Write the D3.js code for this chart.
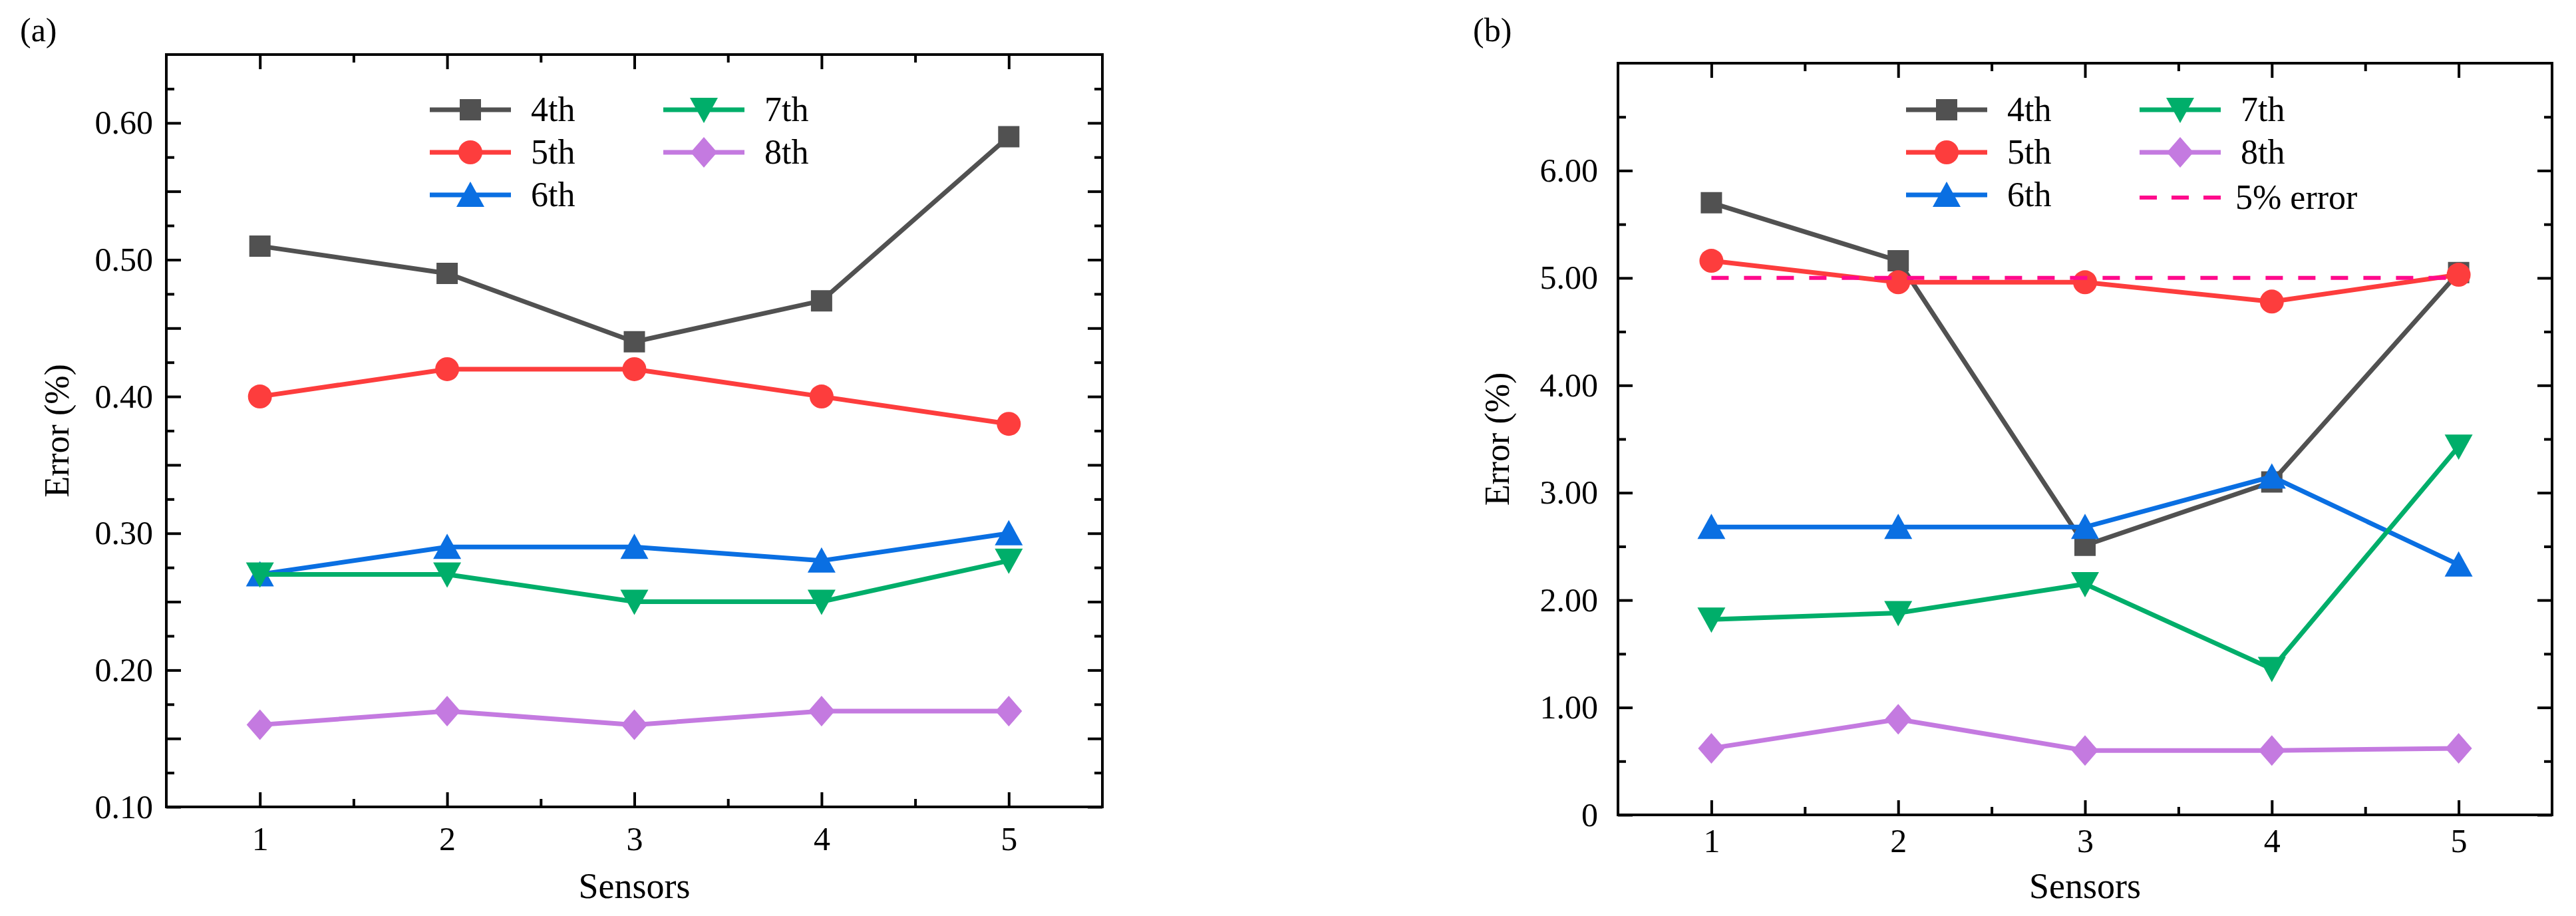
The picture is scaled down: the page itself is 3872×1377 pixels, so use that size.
<!DOCTYPE html>
<html>
<head>
<meta charset="utf-8">
<script src="https://cdn.jsdelivr.net/npm/d3@7"></script>
<style>
  html, body { margin: 0; padding: 0; background: #fff; }
  svg { display: block; }
  text { font-family: "Liberation Serif", "Times New Roman", serif; fill: #000; }
</style>
</head>
<body>
<svg id="chart" width="3872" height="1377"></svg>
<script>
// sensors on the x axis
const sensors = [1, 2, 3, 4, 5];
const modes = ["4th", "5th", "6th", "7th", "8th"];

// (a) error (%)
const a4th = [0.51, 0.49, 0.44, 0.47, 0.59];
const a5th = [0.40, 0.42, 0.42, 0.40, 0.38];
const a6th = [0.27, 0.29, 0.29, 0.28, 0.30];
const a7th = [0.27, 0.27, 0.25, 0.25, 0.28];
const a8th = [0.16, 0.17, 0.16, 0.17, 0.17];

// (b) error (%)
const b4th = [5.70, 5.16, 2.51, 3.10, 5.05];
const b5th = [5.16, 4.96, 4.96, 4.78, 5.03];
const b6th = [2.68, 2.68, 2.68, 3.15, 2.33];
const b7th = [1.82, 1.88, 2.15, 1.36, 3.43];
const b8th = [0.62, 0.89, 0.60, 0.60, 0.62];
const errorLimit = 5.0;

// tick labels
const xTickLabels = ["1", "2", "3", "4", "5"];
const yTicksA = [0.10, 0.20, 0.30, 0.40, 0.50, 0.60];
const yTickLabelsA = ["0.10", "0.20", "0.30", "0.40", "0.50", "0.60"];
const yTicksB = [0, 1, 2, 3, 4, 5, 6];
const yTickLabelsB = ["0", "1.00", "2.00", "3.00", "4.00", "5.00", "6.00"];

const colors = ["#515151", "#fd3d3d", "#0a6fe2", "#00ae6a", "#c47ae0"];
const limitColor = "#ff0a8c";

const svg = d3.select("#chart");

// marker shapes, centred on the point
const markers = [
  "M-16,-16h32v32h-32Z",
  "M18,0A18,18 0 1,1 -18,0A18,18 0 1,1 18,0Z",
  "M0,-20L21,18L-21,18Z",
  "M0,20L21,-18L-21,-18Z",
  "M0,-23L20,0L0,23L-20,0Z"
];

function drawPanel(p) {
  const g = svg.append("g");

  const x = d3.scaleLinear().domain([0.5, 5.5]).range([p.left, p.right]);
  const y = d3.scaleLinear().domain(p.yDomain).range([p.bottom, p.top]);

  const major = 22, minor = 12;

  // bottom axis
  g.append("g")
    .attr("transform", `translate(0,${p.bottom})`)
    .call(d3.axisBottom(x).tickValues(sensors).tickFormat((d, i) => xTickLabels[i])
      .tickSizeInner(-major).tickSizeOuter(0).tickPadding(p.xPad))
    .call(a => a.select(".domain").remove());
  g.append("g")
    .attr("transform", `translate(0,${p.bottom})`)
    .call(d3.axisBottom(x).tickValues(d3.range(1.5, 5, 1)).tickFormat("")
      .tickSizeInner(-minor).tickSizeOuter(0))
    .call(a => a.select(".domain").remove());
  // top axis (mirror)
  g.append("g")
    .attr("transform", `translate(0,${p.top})`)
    .call(d3.axisTop(x).tickValues(sensors).tickFormat("").tickSizeInner(-major).tickSizeOuter(0))
    .call(a => a.select(".domain").remove());
  g.append("g")
    .attr("transform", `translate(0,${p.top})`)
    .call(d3.axisTop(x).tickValues(d3.range(1.5, 5, 1)).tickFormat("").tickSizeInner(-minor).tickSizeOuter(0))
    .call(a => a.select(".domain").remove());

  // left axis
  g.append("g")
    .attr("transform", `translate(${p.left},0)`)
    .call(d3.axisLeft(y).tickValues(p.yTicks).tickFormat((d, i) => p.yLabels[i])
      .tickSizeInner(-major).tickSizeOuter(0).tickPadding(p.yPad))
    .call(a => a.select(".domain").remove());
  g.append("g")
    .attr("transform", `translate(${p.left},0)`)
    .call(d3.axisLeft(y).tickValues(p.yMid).tickFormat("").tickSizeInner(-major).tickSizeOuter(0))
    .call(a => a.select(".domain").remove());
  g.append("g")
    .attr("transform", `translate(${p.left},0)`)
    .call(d3.axisLeft(y).tickValues(p.yMinor).tickFormat("").tickSizeInner(-minor).tickSizeOuter(0))
    .call(a => a.select(".domain").remove());
  // right axis (mirror)
  const rightMajor = p.yTicks.concat(p.yMid);
  g.append("g")
    .attr("transform", `translate(${p.right},0)`)
    .call(d3.axisRight(y).tickValues(rightMajor).tickFormat("").tickSizeInner(-major).tickSizeOuter(0))
    .call(a => a.select(".domain").remove());
  g.append("g")
    .attr("transform", `translate(${p.right},0)`)
    .call(d3.axisRight(y).tickValues(p.yMinor).tickFormat("").tickSizeInner(-minor).tickSizeOuter(0))
    .call(a => a.select(".domain").remove());

  g.selectAll(".tick line").attr("stroke", "#000").attr("stroke-width", 4);
  g.selectAll(".tick text").style("font-size", "50px").attr("fill", "#000");

  // frame
  g.append("rect")
    .attr("x", p.left).attr("y", p.top)
    .attr("width", p.right - p.left).attr("height", p.bottom - p.top)
    .attr("fill", "none").attr("stroke", "#000").attr("stroke-width", 4);

  // series
  const line = d3.line().x((d, i) => x(sensors[i])).y(d => y(d));
  p.series.forEach((vals, k) => {
    g.append("path")
      .attr("d", line(vals))
      .attr("fill", "none")
      .attr("stroke", colors[k])
      .attr("stroke-width", 7);
    g.selectAll(null)
      .data(vals)
      .enter()
      .append("path")
      .attr("d", markers[k])
      .attr("transform", (d, i) => `translate(${x(sensors[i])},${y(d)})`)
      .attr("fill", colors[k]);
  });

  if (p.limit !== undefined) {
    g.append("line")
      .attr("x1", x(sensors[0])).attr("x2", x(sensors[sensors.length - 1]))
      .attr("y1", y(p.limit)).attr("y2", y(p.limit))
      .attr("stroke", limitColor).attr("stroke-width", 6)
      .attr("stroke-dasharray", "26,23");
  }

  // legend
  const lg = g.append("g");
  const rows = [p.legendY, p.legendY + 64, p.legendY + 128];
  const items = modes.map((m, k) => ({
    label: m, k,
    cx: k < 3 ? p.legendX1 : p.legendX2,
    cy: rows[k < 3 ? k : k - 3]
  }));
  items.forEach(it => {
    lg.append("line")
      .attr("x1", it.cx - 61).attr("x2", it.cx + 61)
      .attr("y1", it.cy).attr("y2", it.cy)
      .attr("stroke", colors[it.k]).attr("stroke-width", 7);
    lg.append("path")
      .attr("d", markers[it.k])
      .attr("transform", `translate(${it.cx},${it.cy})`)
      .attr("fill", colors[it.k]);
    lg.append("text")
      .attr("x", it.cx + 91).attr("y", it.cy + 17)
      .style("font-size", "52px")
      .text(it.label);
  });
  if (p.limit !== undefined) {
    const cy = rows[2] + 4;
    lg.append("line")
      .attr("x1", p.legendX2 - 61).attr("x2", p.legendX2 + 61)
      .attr("y1", cy).attr("y2", cy)
      .attr("stroke", limitColor).attr("stroke-width", 6)
      .attr("stroke-dasharray", "26,22");
    lg.append("text")
      .attr("x", p.legendX2 + 83).attr("y", cy + 17)
      .style("font-size", "52px")
      .text("5% error");
  }

  // axis titles
  g.append("text")
    .attr("x", (p.left + p.right) / 2).attr("y", 1350)
    .attr("text-anchor", "middle")
    .style("font-size", "54px")
    .text("Sensors");
  g.append("text")
    .attr("transform", `translate(${p.titleX},${(p.top + p.bottom) / 2}) rotate(-90)`)
    .attr("text-anchor", "middle")
    .style("font-size", "52px")
    .text("Error (%)");

  // panel tag
  g.append("text")
    .attr("x", p.tagX).attr("y", 62)
    .style("font-size", "50px")
    .text(p.tag);
}

drawPanel({
  tag: "(a)", tagX: 30,
  left: 250, right: 1657, top: 82, bottom: 1213,
  yDomain: [0.10, 0.65],
  yTicks: yTicksA, yLabels: yTickLabelsA,
  yMid: d3.range(0.15, 0.64, 0.1),
  yMinor: d3.range(0.125, 0.64, 0.05),
  xPad: 29, yPad: 20, titleX: 103,
  series: [a4th, a5th, a6th, a7th, a8th],
  legendX1: 707, legendX2: 1058, legendY: 165
});

drawPanel({
  tag: "(b)", tagX: 2214,
  left: 2432, right: 3836, top: 95, bottom: 1225,
  yDomain: [0, 7],
  yTicks: yTicksB, yLabels: yTickLabelsB,
  yMid: [],
  yMinor: d3.range(0.5, 7, 1),
  xPad: 20, yPad: 30, titleX: 2268,
  series: [b4th, b5th, b6th, b7th, b8th],
  limit: errorLimit,
  legendX1: 2926, legendX2: 3277, legendY: 165
});
</script>
</body>
</html>
